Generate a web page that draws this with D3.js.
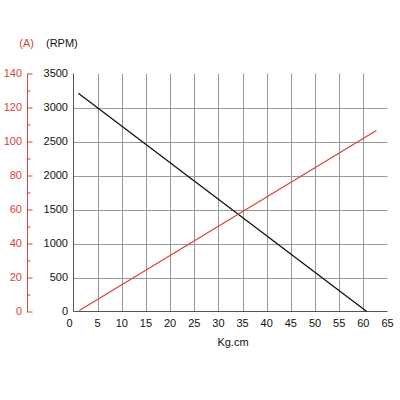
<!DOCTYPE html>
<html>
<head>
<meta charset="utf-8">
<script src="https://cdn.jsdelivr.net/npm/d3@7"></script>
<style>
  body { margin: 0; background: #fff; }
  text { font-family: "Liberation Sans", Arial, sans-serif; font-size: 11px; }
</style>
</head>
<body>
<div id="chart"></div>
<script>
const torqueTicks = [0, 5, 10, 15, 20, 25, 30, 35, 40, 45, 50, 55, 60, 65];
const rpmTicks = [0, 500, 1000, 1500, 2000, 2500, 3000, 3500];
const ampTicks = [0, 20, 40, 60, 80, 100, 120, 140];

// speed curve (Kg.cm -> RPM)
const speedTorque = [1, 60.7];
const speedRpm = [3210, 0];

// current curve (Kg.cm -> A)
const currentTorque = [1.2, 62.7];
const currentAmp = [0.6, 106.5];

const red = '#d9443c';
const width = 400, height = 400;

const svg = d3.select('#chart').append('svg')
  .attr('width', width)
  .attr('height', height);

const x = d3.scaleLinear().domain([0, 65]).range([73.5, 387.5]);
const y = d3.scaleLinear().domain([0, 3500]).range([311.5, 73.5]);
const ya = d3.scaleLinear().domain([0, 140]).range([311.5, 73.5]);

// grid
svg.append('g')
  .attr('stroke', '#999')
  .selectAll('line.v')
  .data(torqueTicks.filter(d => d > 0 && d < 65))
  .enter().append('line')
    .attr('x1', d => Math.round(x(d)) + 0.5)
    .attr('x2', d => Math.round(x(d)) + 0.5)
    .attr('y1', y(3500))
    .attr('y2', y(0));

svg.append('g')
  .attr('stroke', '#999')
  .selectAll('line.h')
  .data(rpmTicks.filter(d => d > 0 && d < 3500))
  .enter().append('line')
    .attr('x1', x(0))
    .attr('x2', x(65))
    .attr('y1', d => Math.round(y(d)) + 0.5)
    .attr('y2', d => Math.round(y(d)) + 0.5);

// main axes lines
svg.append('line')
  .attr('x1', x(0)).attr('x2', x(65))
  .attr('y1', y(0)).attr('y2', y(0))
  .attr('stroke', '#555');
svg.append('line')
  .attr('x1', x(0)).attr('x2', x(0))
  .attr('y1', y(3500)).attr('y2', y(0))
  .attr('stroke', '#555');

// x tick labels
svg.append('g')
  .selectAll('text')
  .data(torqueTicks)
  .enter().append('text')
    .attr('x', d => x(d) - (d === 0 ? 4 : 0))
    .attr('y', 327)
    .attr('text-anchor', 'middle')
    .attr('fill', '#111')
    .text(d => d);

svg.append('text')
  .attr('x', 233).attr('y', 346)
  .attr('text-anchor', 'middle')
  .attr('fill', '#111')
  .text('Kg.cm');

// RPM labels
svg.append('g')
  .selectAll('text')
  .data(rpmTicks)
  .enter().append('text')
    .attr('x', 68)
    .attr('y', d => y(d) + 3.5)
    .attr('text-anchor', 'end')
    .attr('fill', '#111')
    .text(d => d);

svg.append('text')
  .attr('x', 46).attr('y', 47)
  .attr('fill', '#111')
  .text('(RPM)');

// current axis
const ampAxis = d3.axisRight(ya)
  .tickValues(d3.range(0, 141, 10))
  .tickSize(0)
  .tickFormat('');
const ag = svg.append('g')
  .attr('transform', 'translate(27.5,0)')
  .call(ampAxis);
ag.select('.domain').attr('stroke', red).attr('d', `M0,${ya(140)}V${ya(0) + 1}`);
ag.selectAll('.tick line')
  .attr('stroke', red)
  .attr('x2', d => d % 20 === 0 ? 5 : 3);

svg.append('g')
  .selectAll('text')
  .data(ampTicks)
  .enter().append('text')
    .attr('x', 22)
    .attr('y', d => ya(d) + 3)
    .attr('text-anchor', 'end')
    .attr('fill', red)
    .text(d => d);

svg.append('text')
  .attr('x', 34).attr('y', 47)
  .attr('text-anchor', 'end')
  .attr('fill', red)
  .text('(A)');

// curves
svg.append('path')
  .datum(d3.zip(speedTorque, speedRpm))
  .attr('fill', 'none')
  .attr('stroke', '#111')
  .attr('stroke-width', 1.3)
  .attr('d', d3.line().x(d => x(d[0])).y(d => y(d[1])));

svg.append('path')
  .datum(d3.zip(currentTorque, currentAmp))
  .attr('fill', 'none')
  .attr('stroke', red)
  .attr('stroke-width', 1.3)
  .attr('d', d3.line().x(d => x(d[0])).y(d => ya(d[1])));
</script>
</body>
</html>
